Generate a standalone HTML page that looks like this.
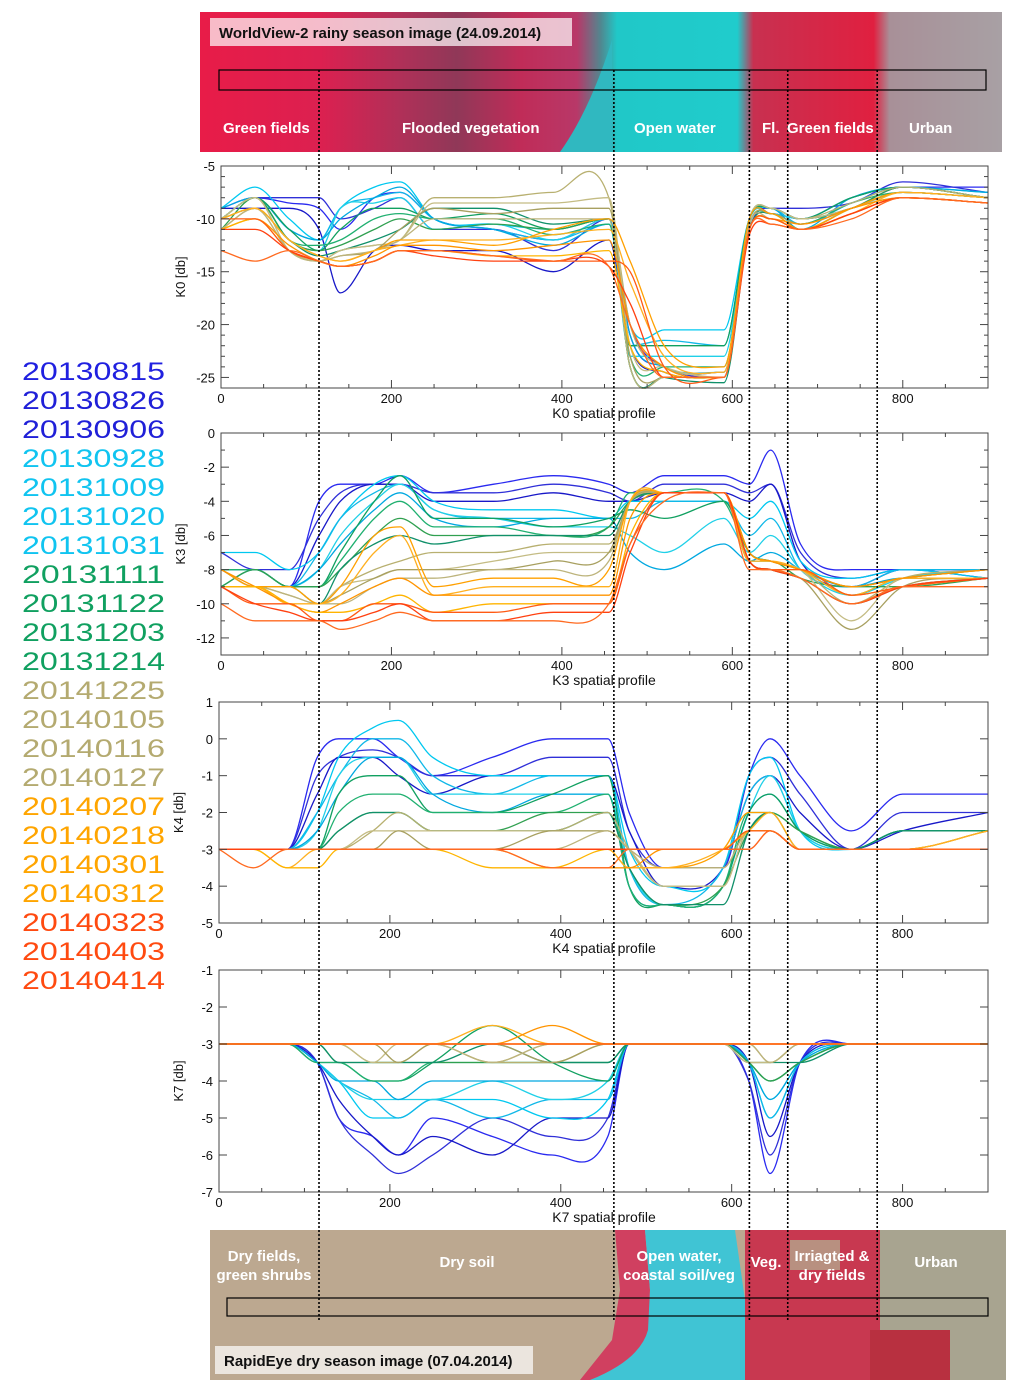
<!DOCTYPE html>
<html><head><meta charset="utf-8">
<style>
html,body{margin:0;padding:0;background:#fff;}
svg{display:block;font-family:"Liberation Sans",sans-serif;}
</style></head>
<body>
<svg id="fig" width="1024" height="1394" viewBox="0 0 1024 1394" xmlns="http://www.w3.org/2000/svg">
<defs>
<linearGradient id="topg" x1="0" x2="1" y1="0" y2="0">
<stop offset="0" stop-color="#e81c48"/><stop offset="0.15" stop-color="#dc2050"/>
<stop offset="0.25" stop-color="#b03058"/><stop offset="0.32" stop-color="#903858"/>
<stop offset="0.4" stop-color="#c02c58"/><stop offset="0.47" stop-color="#b83868"/>
<stop offset="0.5" stop-color="#508890"/><stop offset="0.52" stop-color="#20c8c8"/>
<stop offset="0.67" stop-color="#20cccc"/><stop offset="0.69" stop-color="#c83050"/>
<stop offset="0.84" stop-color="#e02040"/><stop offset="0.86" stop-color="#a89098"/>
<stop offset="1" stop-color="#a8a0a4"/>
</linearGradient>
</defs>
<g id="images"></g>
<g id="legend"></g>
<g id="panels"></g>
<g id="dividers"></g>
<g id="imglabels"></g>
</svg>
<script>
const NS="http://www.w3.org/2000/svg";
const svg=document.getElementById('fig');
function mk(tag,attrs,parent){const e=document.createElementNS(NS,tag);for(const k in attrs)e.setAttribute(k,attrs[k]);(parent||svg).appendChild(e);return e;}

const dates=["20130815","20130826","20130906","20130928","20131009","20131020","20131031","20131111","20131122","20131203","20131214","20141225","20140105","20140116","20140127","20140207","20140218","20140301","20140312","20140323","20140403","20140414"];
const legendColors=["#2020e0","#2020d8","#2020d8","#10c4f0","#10c4f0","#10c4f0","#10c4f0","#10a060","#10a060","#10a060","#10a060","#b4aa70","#b4aa70","#b4aa70","#b4aa70","#ffa500","#ffa500","#ffa500","#ffa500","#ff4a10","#ff4a10","#ff4a10"];
const lineColors=["#2a2af0","#3030d8","#1818c8","#00c8f0","#10b8e8","#20d0e8","#00a8e0","#10a060","#20b070","#30a050","#10906a","#b8b070","#c4bc84","#a8a060","#bdb47c","#ffa000","#ffb020","#ff9400","#ffb400","#ff5a14","#ff4010","#ff6a20"];

const xs=[0,40,80,115,140,180,210,250,320,390,455,480,520,590,620,645,680,740,800,900];

const k0=[
[-9,-8,-8.5,-9,-11,-8,-7.5,-10,-11,-12,-10,-21,-24,-25,-11,-9,-10,-8,-7,-7],
[-10,-8,-8,-8,-10,-9,-8,-11,-11,-13,-10,-20,-24,-24.5,-10,-9,-9,-8.5,-6.5,-7.5],
[-9,-9,-9,-11,-17,-13,-12.5,-13,-13,-15,-12,-22,-24.5,-25,-10,-9.5,-10,-9,-7,-8],
[-9,-7,-10,-12,-9,-7,-6.5,-10,-10.5,-11,-10,-20,-20.5,-20.5,-10,-9,-10,-8,-7,-7.5],
[-10,-8,-11,-12,-9,-8,-7.5,-10,-11,-12,-10.5,-22,-21.5,-22,-10,-9,-10.5,-8.5,-7,-8],
[-10,-8,-12,-13,-9,-8.5,-8,-11,-10.5,-12,-10,-23,-23,-23,-10,-9.5,-10,-9,-7.5,-8],
[-9,-8,-11,-12,-10,-8,-7,-10,-11,-12.5,-10.5,-21,-24,-24.5,-10,-9,-11,-8,-7,-7.5],
[-10,-8,-11,-13,-11,-9,-9,-10,-9.5,-11,-10,-22,-22,-22,-10,-9,-10,-8,-7,-8],
[-10,-8,-12,-12.5,-12,-10,-9.5,-10,-10,-11.5,-10.5,-23,-24,-24,-10.5,-9.5,-10.5,-8.5,-7.5,-8],
[-11,-8,-12,-13,-12.5,-11,-10,-11,-10.5,-11,-10,-24,-25,-25,-10,-9,-10,-9,-7,-8],
[-10,-9,-12,-13.5,-13,-12,-11,-9,-9,-10.5,-10,-24,-25,-25.5,-11,-9.5,-11,-9,-7.5,-8],
[-10,-8,-13,-14,-13,-12.5,-12,-8,-8,-7.5,-8,-20,-24,-24.5,-10,-9,-10,-8.5,-7,-8],
[-10,-8,-13,-14,-13,-12.5,-12,-8.5,-8.5,-8.5,-8,-22,-24,-25,-10,-9,-10,-9,-7.5,-8],
[-11,-9,-13,-14,-13.5,-13,-11,-9,-9.5,-9,-9,-23,-25,-25,-10.5,-9.5,-10.5,-9,-7.5,-8],
[-11,-9,-13,-14,-13.5,-13,-12,-10,-10,-10,-10,-24,-25,-25,-10.5,-10,-11,-9,-8,-8.5],
[-10,-9,-12,-13.5,-14,-13,-12,-12,-12.5,-11,-10,-14,-22,-24,-10,-9.5,-11,-9,-7.5,-8],
[-10,-9,-12,-13.5,-14,-13,-12.5,-12,-12,-11.5,-11,-16,-23,-24.5,-11,-10,-11,-9.5,-7.5,-8],
[-11,-10,-12.5,-14,-14.5,-13.5,-12.5,-12.5,-13,-12.5,-12,-20,-24,-25,-11,-10,-10.5,-9,-8,-8.5],
[-11,-10,-13,-14,-14.5,-14,-13,-13,-13.5,-13.5,-13,-22,-24.5,-25,-11,-10,-11,-9.5,-8,-8.5],
[-10,-10,-13,-14,-14.5,-14,-13,-13,-13.5,-14,-14,-15,-24,-25,-11,-10,-11,-9.5,-8,-8.5],
[-11,-11,-13,-14,-14.5,-14,-13,-13.5,-14,-14,-14.5,-18,-25,-25,-11.5,-10.5,-11,-9.5,-8,-8.5],
[-13,-14,-13,-14,-14.5,-14,-13,-13,-13.5,-14,-14.5,-20,-25,-25,-11,-10.5,-11,-10,-8,-8.5]
];
const k3=[
[-8,-8,-9,-4,-3,-3,-2.5,-3.5,-3,-2.5,-3,-3.5,-2.5,-2.5,-3,-1,-6.5,-8,-8,-8],
[-7,-8,-8,-5,-3.5,-3,-3,-3.5,-3.5,-3,-3.5,-4,-3,-3,-3.5,-3,-7,-8.5,-8,-8.5],
[-8,-9,-9,-6,-4,-3,-3,-4,-4,-3.5,-4,-4,-3.5,-3.5,-4,-3,-7.5,-9,-8,-8],
[-7,-7,-8,-7,-5,-3,-2.5,-4,-4.5,-4.5,-5,-4,-4,-4,-5,-4,-7.5,-8.5,-8,-8.5],
[-8,-8,-9,-7,-5,-3.5,-3,-4.5,-5,-5,-5,-5,-4,-4,-6,-5,-8,-9,-8,-8],
[-8,-8,-9,-8,-6,-4,-3,-4.5,-5,-5.5,-5.5,-6,-7,-5,-7,-6,-8,-9.5,-8.5,-8],
[-9,-8,-9,-8,-6.5,-4.5,-3.5,-5,-5.5,-5,-5,-7,-8,-6.5,-7.5,-7,-8,-9,-8.5,-8.5],
[-8,-8,-9,-9,-7,-4,-2.5,-5,-5,-5.5,-5,-4.5,-5,-4,-7,-7.5,-8,-9,-8.5,-8],
[-8,-8,-9,-9,-7.5,-5,-4,-5.5,-5.5,-6,-5.5,-3.5,-3.5,-4,-7,-7.5,-8,-9.5,-8.5,-8.5],
[-9,-8,-9,-9,-8,-6,-5,-6,-6,-6,-5.5,-4,-3.5,-3.5,-7.5,-7.5,-8.5,-9,-9,-8.5],
[-9,-9,-9,-10,-8,-6.5,-6,-6.5,-6,-6,-6,-4,-3.5,-3.5,-7.5,-8,-8.5,-10,-9,-8.5],
[-8,-9,-9,-10,-9,-8,-7.5,-7,-7,-6.5,-6.5,-4,-3.5,-3.5,-7,-7.5,-8,-10,-8.5,-8],
[-8,-9,-9,-10,-9,-8.5,-8,-8,-7.5,-7,-7,-4,-3.5,-3.5,-7,-7.5,-8,-11,-8.5,-8.5],
[-9,-9,-9.5,-10,-9.5,-8.5,-8,-8,-8,-7.5,-7,-4,-3.5,-3.5,-7.5,-8,-8.5,-11.5,-9,-8.5],
[-9,-9,-9.5,-10,-10,-9,-8.5,-8.5,-8,-8,-7.5,-4,-3.5,-3.5,-7.5,-8,-8.5,-10,-9,-8.5],
[-8,-9,-9,-10,-9,-6,-5.5,-9,-8.5,-8.5,-8,-4,-3.5,-3.5,-7,-7.5,-8,-9,-8.5,-8],
[-9,-9,-10,-10,-9.5,-7,-6,-9.5,-9,-9,-9,-4,-3.5,-3.5,-7.5,-7.5,-8,-9.5,-8.5,-8.5],
[-8,-9,-10,-10.5,-10,-9,-8.5,-9.5,-9.5,-9.5,-9.5,-5,-3.5,-3.5,-7,-7.5,-8,-9,-8.5,-8],
[-9,-9,-10,-10.5,-10.5,-10,-9.5,-10.5,-10,-10,-10,-6,-3.5,-3.5,-7.5,-8,-8,-9.5,-9,-8.5],
[-9,-10,-10,-11,-11,-10,-10,-10.5,-10.5,-10,-10,-6.5,-3.5,-3.5,-7.5,-8,-8,-9.5,-9,-8.5],
[-9,-10,-10.5,-11,-11,-10.5,-10,-11,-11,-10.5,-10.5,-7,-3.5,-3.5,-7.5,-8,-8.5,-10,-9,-8.5],
[-10,-11,-11,-11,-11.5,-11,-10.5,-11,-11,-11,-10,-6.5,-4,-3.5,-8,-8,-8.5,-10,-9,-9]
];
const k4=[
[-3,-3,-3,-0.5,0,0,-0.5,-1,-0.5,0,0,-2,-3.5,-3.5,-1,0,-1,-2.5,-1.5,-1.5],
[-3,-3,-3,-1,-0.5,-0.3,-0.5,-1,-1,-0.5,-0.5,-2.5,-3.5,-3.5,-1,-0.5,-1.5,-3,-2,-2],
[-3,-3,-3,-1.5,-0.5,-0.5,-1,-1.5,-1,-1,-1,-2.5,-4,-3.5,-1.5,-1,-2,-3,-2.5,-2],
[-3,-3,-3,-2,-0.5,0.3,0.5,-0.5,-1,-1,-1,-3,-4,-3.5,-1,-0.5,-2.5,-3,-2.5,-2.5],
[-3,-3,-3,-2,-1,0,0,-1,-1.5,-1,-1,-3.5,-4.5,-3.5,-1.5,-1,-2.5,-3,-2.5,-2.5],
[-3,-3,-3,-2.5,-1,-0.5,-0.5,-1.5,-1.5,-1.5,-1.5,-3.5,-4.5,-4,-2,-1,-2.5,-3,-2.5,-2.5],
[-3,-3,-3,-2.5,-1.5,-0.5,-0.5,-1.5,-2,-1.5,-1.5,-4,-4.5,-4,-2,-1.5,-2.5,-3,-2.5,-2.5],
[-3,-3,-3,-3,-1.5,-1,-1,-2,-2,-1.5,-1,-4,-4.5,-4,-2,-1.5,-2.5,-3,-2.5,-2.5],
[-3,-3,-3,-3,-2,-1.5,-1.5,-2,-2,-2,-1.5,-4,-4.5,-4,-2,-2,-2.5,-3,-2.5,-2.5],
[-3,-3,-3,-3,-2.5,-2,-2,-2.5,-2.5,-2,-2,-3.5,-4.5,-4,-2.5,-2,-2.5,-3,-2.5,-2.5],
[-3,-3,-3,-3,-2.5,-2,-2,-2.5,-2.5,-2.5,-2,-3.5,-4.5,-4.5,-2.5,-2,-3,-3,-2.5,-2.5],
[-3,-3,-3,-3,-3,-2.5,-2,-2.5,-2.5,-2.5,-2,-3,-4,-4,-2.5,-2.5,-3,-3,-3,-2.5],
[-3,-3,-3,-3,-3,-2.5,-2.5,-2.5,-2.5,-2.5,-2.5,-3,-4,-4,-2.5,-2.5,-3,-3,-3,-2.5],
[-3,-3,-3,-3,-3,-3,-2.5,-3,-3,-2.5,-2.5,-3,-3.5,-3.5,-2.5,-2.5,-3,-3,-3,-3],
[-3,-3,-3,-3,-3,-3,-3,-3,-3,-3,-2.5,-3,-3.5,-3.5,-2.5,-2.5,-3,-3,-3,-3],
[-3,-3,-3,-3,-3,-3,-3,-3,-3,-3,-3,-3.5,-3.5,-3,-2,-2,-3,-3,-3,-2.5],
[-3,-3,-3.5,-3,-3,-3,-3,-3,-3,-3,-3,-3.5,-3.5,-3,-2.5,-2,-3,-3,-3,-2.5],
[-3,-3,-3,-3,-3,-3,-3,-3,-3,-3.5,-3.5,-3.5,-3,-3,-2.5,-2.5,-3,-3,-3,-3],
[-3,-3,-3.5,-3.5,-3,-3,-3,-3,-3.5,-3.5,-3,-3,-3,-3,-2.5,-2.5,-3,-3,-3,-3],
[-3,-3,-3,-3,-3,-3,-3,-3,-3,-3,-3,-3,-3,-3,-2.5,-2.5,-3,-3,-3,-3],
[-3,-3,-3,-3,-3,-3,-3,-3,-3,-3,-3,-3,-3,-3,-3,-2.5,-3,-3,-3,-3],
[-3,-3.5,-3,-3,-3,-3,-3,-3,-3,-3.5,-3.5,-3,-3,-3,-3,-2.5,-3,-3,-3,-3]
];
const k7=[
[-3,-3,-3,-3.5,-5,-5.5,-6,-5,-5.5,-6,-5.5,-3,-3,-3,-4,-6.5,-3.5,-3,-3,-3],
[-3,-3,-3,-3.5,-5,-6,-6.5,-6,-5,-5.5,-5,-3,-3,-3,-4,-6,-3.5,-3,-3,-3],
[-3,-3,-3,-3.5,-4.5,-5.5,-6,-5.5,-6,-5,-5,-3,-3,-3,-3.5,-5.5,-3.5,-3,-3,-3],
[-3,-3,-3,-3.5,-4,-5,-5,-4.5,-4.5,-5,-4.5,-3,-3,-3,-3.5,-5,-3.5,-3,-3,-3],
[-3,-3,-3,-3.5,-4,-4.5,-5,-4.5,-5,-4.5,-4.5,-3,-3,-3,-3.5,-5,-3.5,-3,-3,-3],
[-3,-3,-3,-3.5,-4,-4.5,-4.5,-4.5,-4,-4.5,-4,-3,-3,-3,-3.5,-4.5,-3.5,-3,-3,-3],
[-3,-3,-3,-3.5,-4,-4,-4.5,-4,-4,-4,-4,-3,-3,-3,-3.5,-4.5,-3.5,-3,-3,-3],
[-3,-3,-3,-3.5,-3.5,-4,-4,-3.5,-2.5,-3.5,-4,-3,-3,-3,-3.5,-4,-3.5,-3,-3,-3],
[-3,-3,-3,-3.5,-3.5,-4,-4,-3.5,-3.5,-3.5,-3.5,-3,-3,-3,-3.5,-4,-3.5,-3,-3,-3],
[-3,-3,-3,-3,-3.5,-3.5,-3.5,-3.5,-3.5,-3.5,-3.5,-3,-3,-3,-3.5,-4,-3.5,-3,-3,-3],
[-3,-3,-3,-3,-3.5,-3.5,-3.5,-3.5,-3,-3.5,-3.5,-3,-3,-3,-3.5,-3.5,-3.5,-3,-3,-3],
[-3,-3,-3,-3,-3,-3.5,-3.5,-3,-3.5,-3.5,-3,-3,-3,-3,-3.5,-3.5,-3,-3,-3,-3],
[-3,-3,-3,-3,-3,-3.5,-3,-3,-3.5,-3,-3,-3,-3,-3,-3.5,-3.5,-3,-3,-3,-3],
[-3,-3,-3,-3,-3,-3,-3.5,-3,-3,-3.5,-3,-3,-3,-3,-3,-3.5,-3,-3,-3,-3],
[-3,-3,-3,-3,-3,-3,-3,-3,-3.5,-3,-3,-3,-3,-3,-3,-3.5,-3,-3,-3,-3],
[-3,-3,-3,-3,-3,-3,-3,-3,-3,-3,-3,-3,-3,-3,-3,-3,-3,-3,-3,-3],
[-3,-3,-3,-3,-3,-3,-3,-3,-2.5,-3,-3,-3,-3,-3,-3,-3,-3,-3,-3,-3],
[-3,-3,-3,-3,-3,-3,-3,-3,-3,-2.5,-3,-3,-3,-3,-3,-3,-3,-3,-3,-3],
[-3,-3,-3,-3,-3,-3,-3,-3,-3,-3,-3,-3,-3,-3,-3,-3,-3,-3,-3,-3],
[-3,-3,-3,-3,-3,-3,-3,-3,-3,-3,-3,-3,-3,-3,-3,-3,-3,-3,-3,-3],
[-3,-3,-3,-3,-3,-3,-3,-3,-3,-3,-3,-3,-3,-3,-3,-3,-3,-3,-3,-3],
[-3,-3,-3,-3,-3,-3,-3,-3,-3,-3,-3,-3,-3,-3,-3,-3,-3,-3,-3,-3]
];
const panelNames=["K0","K3","K4","K7"];
const panelYTicks=[[-5,-10,-15,-20,-25],[0,-2,-4,-6,-8,-10,-12],[1,0,-1,-2,-3,-4,-5],[-1,-2,-3,-4,-5,-6,-7]];
const xTickLabels=[0,200,400,600,800];
const dividerXs=[115,461,620,665,770];

// ---- images ----
const gi=document.getElementById('images');
let r=mk('rect',{x:200,y:12,width:802,height:140,fill:'url(#topg)'},gi);

mk('path',{d:'M560 152 Q590 110 612 40 L612 152 Z',fill:'#30b8c0'},gi);
r=mk('rect',{x:210,y:1230,width:796,height:150,fill:'#bca890'},gi);

mk('path',{d:'M615 1230 L645 1230 L650 1290 L648 1350 L600 1380 L580 1380 L612 1340 L620 1290 Z',fill:'#d04060'},gi);
mk('path',{d:'M645 1230 L735 1230 L745 1300 L752 1380 L590 1380 Q640 1360 648 1330 L650 1290 Z',fill:'#40c4d4'},gi);
mk('rect',{x:745,y:1230,width:135,height:150,fill:'#c83850'},gi);
mk('rect',{x:790,y:1240,width:50,height:30,fill:'#b89080'},gi);
mk('rect',{x:880,y:1230,width:126,height:150,fill:'#a8a490'},gi);
mk('rect',{x:870,y:1330,width:80,height:50,fill:'#b83040'},gi);
mk('rect',{x:219,y:70,width:767,height:20,fill:'none',stroke:'#000','stroke-width':1.2},gi);
mk('rect',{x:227,y:1298,width:761,height:18,fill:'none',stroke:'#000','stroke-width':1.2},gi);

// ---- legend ----
const gl=document.getElementById('legend');
dates.forEach((d,i)=>{
  const t=mk('text',{x:22,y:380+i*29,'font-size':25,fill:legendColors[i],textLength:143,lengthAdjust:'spacingAndGlyphs'},gl);
  t.textContent=d;
  
  
});

// ---- panels ----
const panelData=[k0,k3,k4,k7];
const panelBox=[{t:166,b:388,ymax:-5,ymin:-26,l:221},{t:433,b:655,ymax:0,ymin:-13,l:221},{t:702,b:923,ymax:1,ymin:-5,l:219},{t:970,b:1192,ymax:-1,ymin:-7,l:219}];
const R=988;
const gp=document.getElementById('panels');
function monoPath(pts){
  const n=pts.length,d=[],m=[];
  for(let k=0;k<n-1;k++)d.push((pts[k+1][1]-pts[k][1])/(pts[k+1][0]-pts[k][0]));
  for(let k=0;k<n;k++){
    if(k===0)m.push(d[0]);else if(k===n-1)m.push(d[n-2]);
    else m.push(d[k-1]*d[k]<=0?0:(d[k-1]+d[k])/2);
  }
  let s='M'+pts[0][0].toFixed(1)+' '+pts[0][1].toFixed(1);
  for(let k=0;k<n-1;k++){
    const h=(pts[k+1][0]-pts[k][0])/3;
    s+=' C'+(pts[k][0]+h).toFixed(1)+' '+(pts[k][1]+m[k]*h).toFixed(1)+' '+(pts[k+1][0]-h).toFixed(1)+' '+(pts[k+1][1]-m[k+1]*h).toFixed(1)+' '+pts[k+1][0].toFixed(1)+' '+pts[k+1][1].toFixed(1);
  }
  return s;
}
panelBox.forEach((pb,pi)=>{
  const g=mk('g',{},gp);
  
  
  const sx=v=>pb.l+(v/900)*(R-pb.l);
  const sy=v=>pb.t+(pb.ymax-v)/(pb.ymax-pb.ymin)*(pb.b-pb.t);
  const data=panelData[pi];
  data.forEach((s,si)=>{
    const pts=s.map((v,k)=>[sx(xs[k]),sy(v)]);
    const p=mk('path',{d:monoPath(pts),fill:'none',stroke:lineColors[si],'stroke-width':1.3},g);
    
    
  });
  mk('rect',{x:pb.l,y:pb.t,width:R-pb.l,height:pb.b-pb.t,fill:'none',stroke:'#444','stroke-width':1},g);
  for(let v=0;v<=900;v+=50){
    const big=v%200===0, L=big?8:4;
    mk('line',{x1:sx(v),x2:sx(v),y1:pb.b,y2:pb.b-L,stroke:'#444'},g);
    mk('line',{x1:sx(v),x2:sx(v),y1:pb.t,y2:pb.t+L,stroke:'#444'},g);
  }
  xTickLabels.forEach(v=>{
    const t=mk('text',{x:sx(v),y:pb.b+15,'font-size':13,'text-anchor':'middle',fill:'#111'},g);
    t.textContent=v;
    
    
  });
  const yt=panelYTicks[pi];
  for(let v=pb.ymax;v>=pb.ymin;v-=1){
    const big=yt.includes(v), L=big?8:4;
    mk('line',{x1:pb.l,x2:pb.l+L,y1:sy(v),y2:sy(v),stroke:'#444'},g);
    mk('line',{x1:R,x2:R-L,y1:sy(v),y2:sy(v),stroke:'#444'},g);
  }
  yt.forEach(v=>{
    const t=mk('text',{x:pb.l-6,y:sy(v)+5,'font-size':13,'text-anchor':'end',fill:'#111'},g);
    t.textContent=v;
    
    
  });
  const yl=mk('text',{x:0,y:0,'font-size':13,'text-anchor':'middle',fill:'#111',transform:'translate('+(pb.l-36)+','+((pb.t+pb.b)/2)+') rotate(-90)'},g);
  yl.textContent=panelNames[pi]+' [db]';
  
  
  const xl=mk('text',{x:604,y:pb.b+30,'font-size':14,'text-anchor':'middle',fill:'#111'},g);
  xl.textContent=panelNames[pi]+' spatial profile';
  
  
});

// ---- dividers ----
const gd=document.getElementById('dividers');
dividerXs.forEach(v=>{
  const x=221+(v/900)*(R-221);
  const l=mk('line',{x1:x,x2:x,y1:70,y2:1320,stroke:'#000','stroke-width':1.6,'stroke-dasharray':'2,2'},gd);
  
  
});

// ---- image labels ----
const gt=document.getElementById('imglabels');
function lbl(x,y,txt,anchor,name){
  const t=mk('text',{x:x,y:y,'font-size':15,'font-weight':'bold',fill:'#fff','text-anchor':anchor||'start'},gt);
  t.textContent=txt;
  
  
}
mk('rect',{x:210,y:18,width:362,height:28,fill:'#fff','fill-opacity':0.7},gt);
lbl(219,38,'WorldView-2 rainy season image (24.09.2014)','start','top-image-title');
gt.lastChild.setAttribute('fill','#111');
lbl(223,133,'Green fields','start','label-green-fields');
lbl(402,133,'Flooded vegetation','start','label-flooded-vegetation');
lbl(634,133,'Open water','start','label-open-water');
lbl(762,133,'Fl.','start','label-fl');
lbl(787,133,'Green fields','start','label-green-fields-2');
lbl(909,133,'Urban','start','label-urban');
lbl(264,1261,'Dry fields,','middle','label-dry-fields');
lbl(264,1280,'green shrubs','middle','label-green-shrubs');
lbl(467,1267,'Dry soil','middle','label-dry-soil');
lbl(679,1261,'Open water,','middle','label-open-water-b');
lbl(679,1280,'coastal soil/veg','middle','label-coastal');
lbl(766,1267,'Veg.','middle','label-veg');
lbl(832,1261,'Irriagted &','middle','label-irrigated');
lbl(832,1280,'dry fields','middle','label-dry-fields-b');
lbl(936,1267,'Urban','middle','label-urban-b');
mk('rect',{x:215,y:1346,width:318,height:28,fill:'#fff','fill-opacity':0.7},gt);
lbl(224,1366,'RapidEye dry season image (07.04.2014)','start','bottom-image-title');
gt.lastChild.setAttribute('fill','#111');
</script>
</body></html>
